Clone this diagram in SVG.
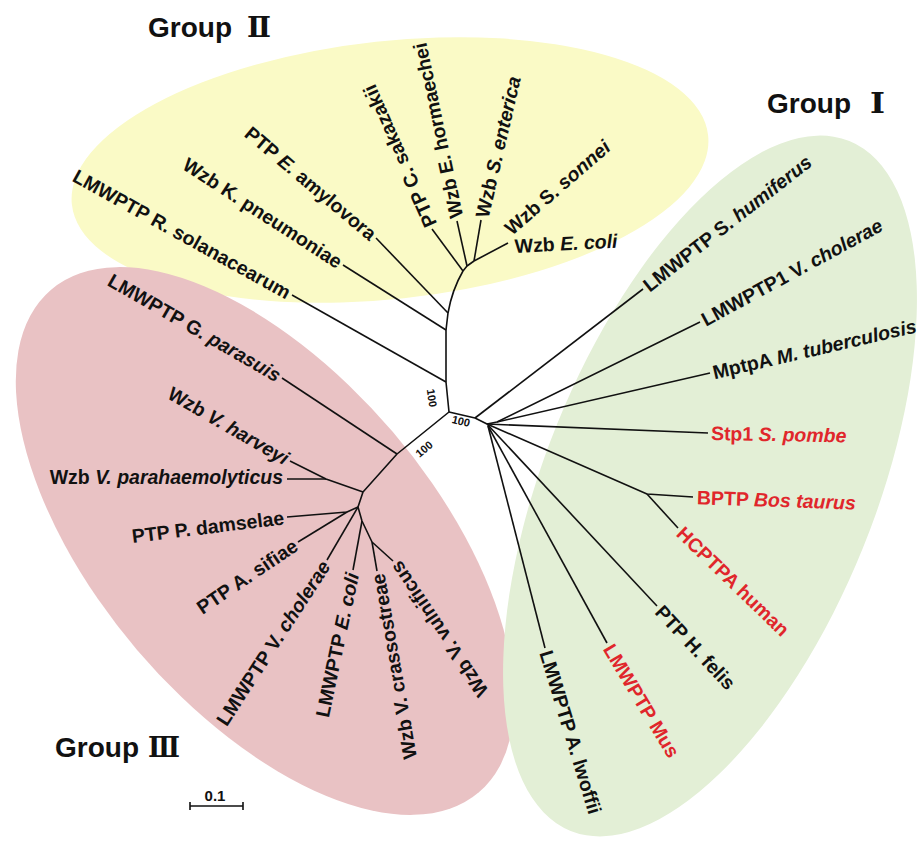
<svg xmlns="http://www.w3.org/2000/svg" width="918" height="842" viewBox="0 0 918 842">
<style>
.lbl{font-family:"Liberation Sans",Arial,sans-serif;font-weight:bold;font-size:19.5px;fill:#111}
.red{fill:#e0262b}
.it{font-style:italic}
.br{stroke:#111;stroke-width:1.6;fill:none;stroke-linejoin:round}
.bs{font-family:"Liberation Sans",Arial,sans-serif;font-weight:bold;font-size:11px;fill:#111;text-anchor:middle}
.grp{font-family:"Liberation Sans",Arial,sans-serif;font-weight:bold;font-size:28px;fill:#111}
.num{font-family:"DejaVu Serif","Liberation Serif",serif;font-weight:bold;font-size:28px;fill:#111}
.e{text-anchor:end}
</style>
<rect width="918" height="842" fill="#fff"/>
<g id="clades">
<ellipse id="groupII-area" cx="390" cy="170" rx="320" ry="129" transform="rotate(-6.2 390 170)" fill="#fafac6"/>
<ellipse id="groupIII-area" cx="265" cy="541" rx="330" ry="168" transform="rotate(49.6 265 541)" fill="#e9c2c4"/>
<ellipse id="groupI-area" cx="710" cy="486" rx="372" ry="165" transform="rotate(-68 710 486)" fill="#e3efd6"/>
</g>
<g id="connectors" class="br">
<path d="M449,412 L446,382 L446,330 L448,313 Q452,290 463,271 L467,266 L474,261"/>
<path d="M446,382 L292,295"/>
<path d="M446,330 L343,265"/>
<path d="M448,313 L376,238"/>
<path d="M463,271 L432,229"/>
<path d="M467,266 L457,221"/>
<path d="M474,261 L481,220"/>
<path d="M474,261 L508,243"/>
<path d="M449,412 L475,418 L487,424"/>
<path d="M475,418 L643,289"/>
<path d="M487,424 L497,422 L700,322"/>
<path d="M497,422 L710,373"/>
<path d="M487,424 L708,433"/>
<path d="M487,424 L647,494 L693,497"/>
<path d="M647,494 L678,528"/>
<path d="M487,424 L657,606"/>
<path d="M488,426 L607,643"/>
<path d="M488,426 L545,648"/>
<path d="M449,412 L397,454 L363,492 L358,507 L362,521 L372,542"/>
<path d="M397,454 L282,378"/>
<path d="M363,492 L326,479 L290,461"/>
<path d="M326,479 L287,479"/>
<path d="M358,507 L347,512 L287,517"/>
<path d="M347,512 L298,542"/>
<path d="M358,507 L327,560"/>
<path d="M362,521 L353,570"/>
<path d="M372,542 L377,571"/>
<path d="M372,542 L393,561"/>
</g>
<g id="bootstrap">
<text class="bs" transform="translate(432,398) rotate(82)" y="4">100</text>
<text class="bs" transform="translate(461,421) rotate(14)" y="4">100</text>
<text class="bs" transform="translate(424,449) rotate(-40)" y="4">100</text>
</g>
<g id="group-II">
<text id="n-rsol" class="lbl e" transform="translate(292,295) rotate(29)" x="-3" y="7">LMWPTP R. solanacearum</text>
<text id="n-kpn" class="lbl e" transform="translate(343,265) rotate(33)" x="-3" y="7">Wzb K. pneumoniae</text>
<text id="n-eamy" class="lbl e" transform="translate(376,238) rotate(40)" x="-3" y="7">PTP <tspan class="it">E.</tspan> amylovora</text>
<text id="n-csak" class="lbl" transform="translate(432,229) rotate(-114)" x="3" y="7">PTP C. sakazakii</text>
<text id="n-ehor" class="lbl" transform="translate(457,221) rotate(-102)" x="3" y="7">Wzb E. hormaechei</text>
<text id="n-sent" class="lbl" transform="translate(481,220) rotate(-77)" x="3" y="7">Wzb <tspan class="it">S. enterica</tspan></text>
<text id="n-sson" class="lbl" transform="translate(512,236) rotate(-41)">Wzb S. <tspan class="it">sonnei</tspan></text>
<text id="n-ecoli2" class="lbl" transform="translate(515,253) rotate(-3)">Wzb <tspan class="it">E. coli</tspan></text>
</g>
<g id="group-I">
<text id="n-shum" class="lbl" transform="translate(643,289) rotate(-38)" x="3" y="7">LMWPTP S. <tspan class="it">humiferus</tspan></text>
<text id="n-vch1" class="lbl" transform="translate(700,322) rotate(-28.5)" x="3" y="7">LMWPTP1 V. <tspan class="it">cholerae</tspan></text>
<text id="n-mtb" class="lbl" transform="translate(710,373) rotate(-13)" x="3" y="7">MptpA <tspan class="it">M. tuberculosis</tspan></text>
<text id="n-spo" class="lbl red" transform="translate(708,433) rotate(1)" x="3" y="7">Stp1 <tspan class="it">S. pombe</tspan></text>
<text id="n-bta" class="lbl red" transform="translate(693,497) rotate(2)" x="4" y="7">BPTP <tspan class="it">Bos taurus</tspan></text>
<text id="n-hum" class="lbl red" transform="translate(678,528) rotate(44)" x="3" y="7">HCPTPA human</text>
<text id="n-hfe" class="lbl" transform="translate(657,606) rotate(47)" x="3" y="7">PTP H. felis</text>
<text id="n-mus" class="lbl red" transform="translate(607,643) rotate(59)" x="3" y="7">LMWPTP Mus</text>
<text id="n-alw" class="lbl" transform="translate(545,648) rotate(73)" x="3" y="7">LMWPTP A. lwoffii</text>
</g>
<g id="group-III">
<text id="n-gpa" class="lbl e" transform="translate(282,378) rotate(30)" x="-3" y="7">LMWPTP G. <tspan class="it">parasuis</tspan></text>
<text id="n-vha" class="lbl e" transform="translate(290,461) rotate(30)" x="-3" y="7">Wzb <tspan class="it">V. harveyi</tspan></text>
<text id="n-vpa" class="lbl e" transform="translate(287,479)" x="-4" y="5">Wzb <tspan class="it">V. parahaemolyticus</tspan></text>
<text id="n-pda" class="lbl e" transform="translate(287,517) rotate(-7)" x="-3" y="7">PTP P. damselae</text>
<text id="n-asi" class="lbl e" transform="translate(298,542) rotate(-34)" x="-3" y="7">PTP A. sifiae</text>
<text id="n-vch" class="lbl e" transform="translate(327,560) rotate(-57)" x="-3" y="7">LMWPTP V. <tspan class="it">cholerae</tspan></text>
<text id="n-eco" class="lbl e" transform="translate(353,570) rotate(-78)" x="-3" y="7">LMWPTP <tspan class="it">E. coli</tspan></text>
<text id="n-vcr" class="lbl e" transform="translate(377,571) rotate(-100)" x="-3" y="7">Wzb V. crassostreae</text>
<text id="n-vvu" class="lbl e" transform="translate(393,561) rotate(-124)" x="-3" y="7">Wzb V. vulnificus</text>
</g>
<g id="titles">
<text class="grp" x="148" y="37">Group</text><text class="num" x="247" y="37" textLength="24" lengthAdjust="spacingAndGlyphs">Ⅱ</text>
<text class="grp" x="767" y="113">Group</text><text class="num" x="870" y="113" textLength="15" lengthAdjust="spacingAndGlyphs">Ⅰ</text>
<text class="grp" x="55" y="757">Group</text><text class="num" x="148" y="757" textLength="32" lengthAdjust="spacingAndGlyphs">Ⅲ</text>
</g>
<g id="scale">
<path class="br" d="M190,806 H243 M190,802 V810 M243,802 V810"/>
<text class="bs" x="215" y="801" style="font-size:15px">0.1</text>
</g>
</svg>
